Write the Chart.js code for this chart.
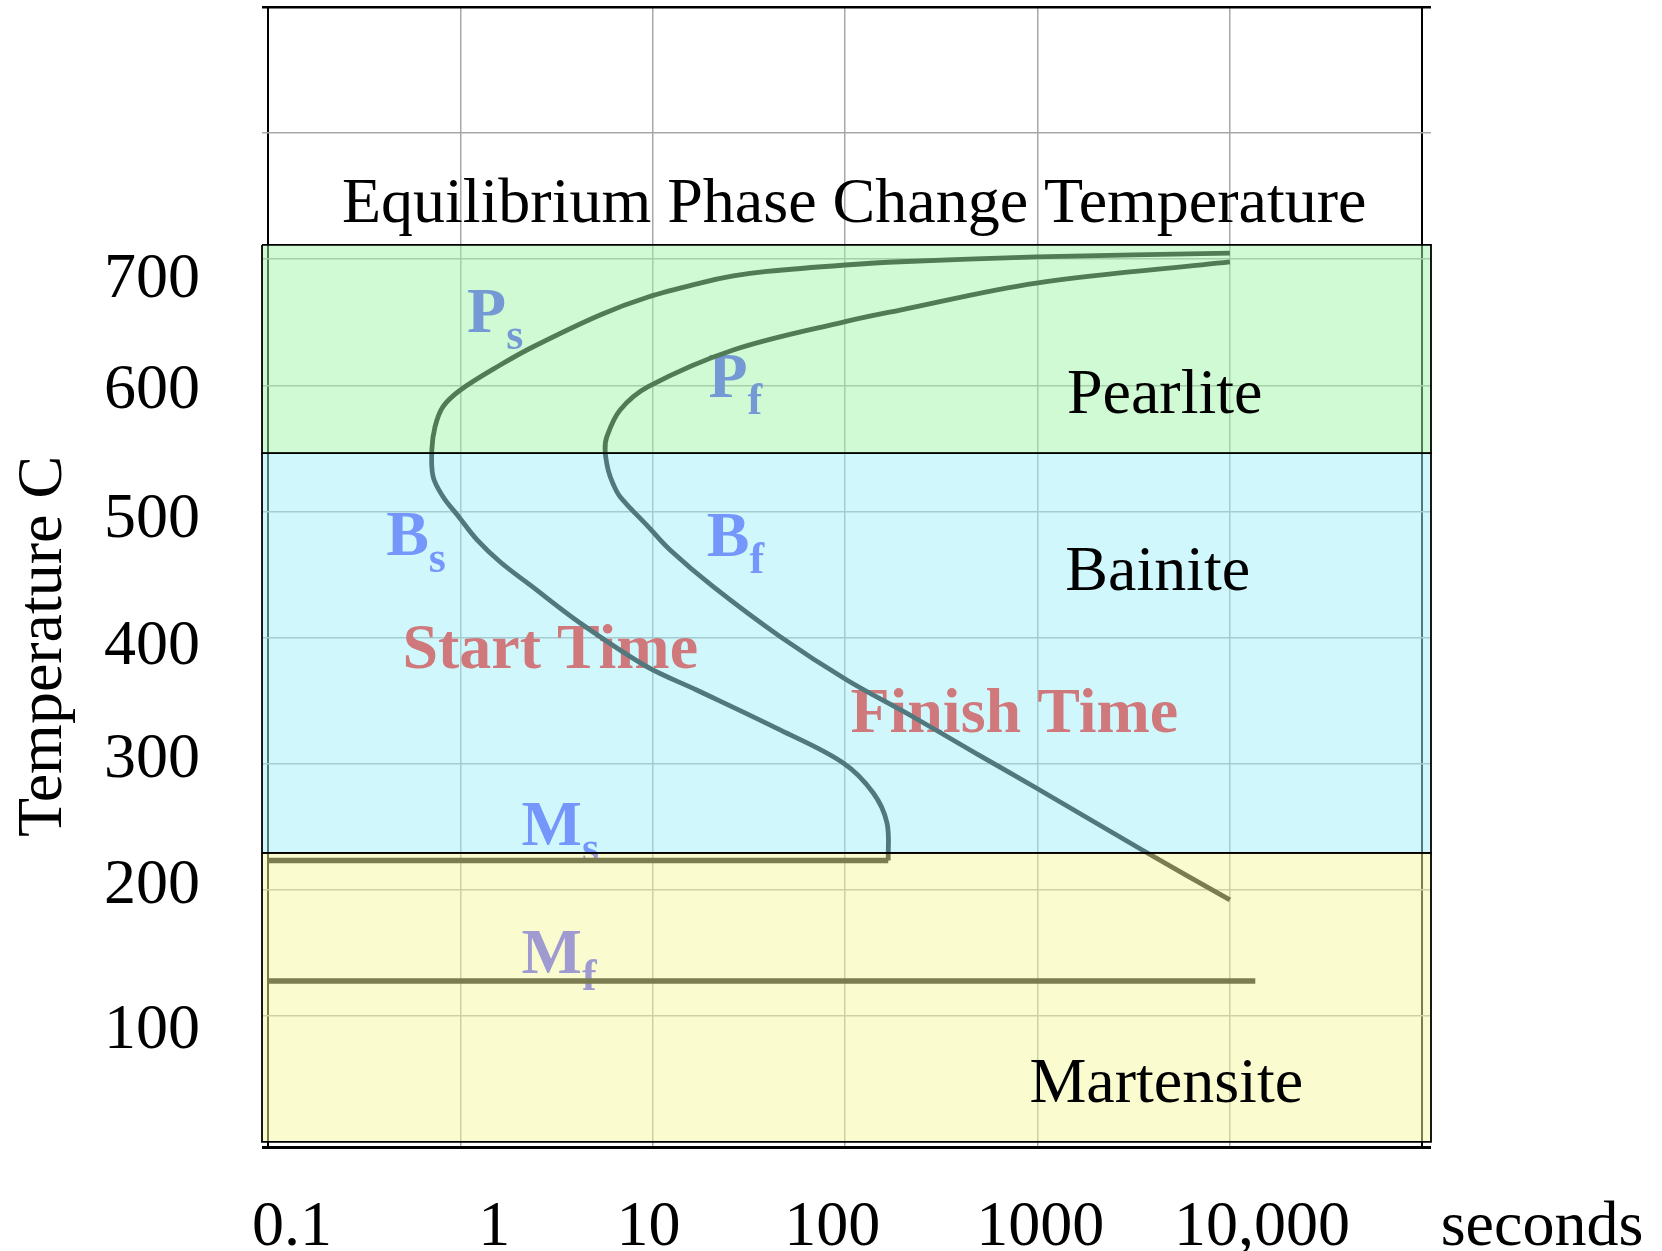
<!DOCTYPE html>
<html>
<head>
<meta charset="utf-8">
<script src="https://cdn.jsdelivr.net/npm/chart.js@4.4.1/dist/chart.umd.min.js"></script>
<style>
  html, body { margin: 0; padding: 0; background: #ffffff; }
  #wrap { width: 1662px; height: 1251px; position: relative; }
</style>
</head>
<body>
<div id="wrap"><canvas id="c"></canvas></div>
<script>
// ---------- axes ----------
const xGridValues = [0.1, 1, 10, 100, 1000, 10000, 100000];
const xTickLabels = ['0.1', '1', '10', '100', '1000', '10,000'];
const xTickLabelAt = [0.133, 1.5, 9.5, 85.6, 1033, 14700];      // where each label sits in the picture
const yGridValues = [100, 200, 300, 400, 500, 600, 700, 800, 900];
const yTickLabels = ['700', '600', '500', '400', '300', '200', '100'];
const yTickLabelAt = [683.5, 595.1, 493.2, 392.1, 302.9, 202.6, 87.6];

// ---------- start time curve (Ps -> nose -> Bs) ----------
const startTime = [10000, 985, 193, 100, 39.2, 26.2, 17.6, 9.46, 5.32, 2.39, 1.61, 1.0, 0.812, 0.738, 0.710, 0.721, 0.812, 0.973, 1.221, 1.61, 2.30, 4.19, 9.31, 16.9, 45.9, 97.7, 140, 165, 167.5];
const startTemp = [704.9, 701.8, 698.0, 695.4, 690.3, 686.7, 681.1, 670.0, 655.8, 630.6, 616.1, 596.3, 583.1, 567.2, 548.7, 527.5, 511.7, 496.4, 477.4, 459.9, 441.7, 411.5, 376.9, 358.4, 326.7, 300.5, 276.7, 252.9, 223.2];

// ---------- finish time curve (Pf -> nose -> Bf) ----------
const finishTime = [10000, 985, 193, 100, 26.2, 9.46, 6.76, 5.77, 5.65, 5.86, 6.22, 6.76, 9.46, 12.3, 20.6, 45.9, 102, 226, 504, 985, 3500, 10000];
const finishTemp = [697.8, 681.1, 659.7, 650.5, 628.0, 598.9, 580.4, 559.3, 548.7, 532.9, 521.8, 511.7, 487.9, 469.4, 440.3, 400.7, 366.3, 337.0, 306.1, 280.7, 231.5, 191.9];

// ---------- martensite start / finish lines ----------
const msTime = [0.1, 167.5];
const msTemp = [223.2, 223.2];
const mfTime = [0.1, 13550];
const mfTemp = [127.7, 127.7];

// ---------- phase bands ----------
const bandNames = ['Pearlite', 'Bainite', 'Martensite'];
const bandTop = [711.3, 546.3, 229.2];
const bandBottom = [546.3, 229.2, 0];
const bandTimeRange = [0.093, 111000];
const bandColors = ['rgba(161,245,169,0.5)', 'rgba(161,241,249,0.5)', 'rgba(245,249,161,0.5)'];

// ---------- text labels ----------
const phaseMain = ['P', 'P', 'B', 'B', 'M', 'M'];
const phaseSub = ['s', 'f', 's', 'f', 's', 'f'];
const phaseTime = [1.083, 19.45, 0.411, 19.1, 2.08, 2.08];
const phaseTemp = [642.5, 591.0, 465.5, 464.7, 235.5, 133.8];

const curveNames = ['Start Time', 'Finish Time'];
const curveNameTime = [2.93, 757];
const curveNameTemp = [375.9, 325.1];

const regionNameTime = [4581, 4217, 4666];
const regionNameTemp = [578.1, 437.7, 31.7];

const titleText = 'Equilibrium Phase Change Temperature';
const titleTime = 111.4;
const titleTemp = 729.5;

const yAxisTitle = 'Temperature C';
const yAxisTitleTemp = 393;
const xAxisUnit = 'seconds';

// ---------- build datasets ----------
const FONT = '"Liberation Serif", "Times New Roman", serif';
const pts = (xs, ys) => xs.map((x, i) => ({ x: x, y: ys[i] }));
const curveStyle = { showLine: true, borderColor: '#000000', pointRadius: 0, fill: false, order: 1, clip: false, xAxisID: 'x', yAxisID: 'y' };

const datasets = [];
bandNames.forEach((name, i) => {
  const [t0, t1] = bandTimeRange;
  datasets.push({
    label: name,
    data: [
      { x: t0, y: bandTop[i] }, { x: t1, y: bandTop[i] },
      { x: t1, y: bandBottom[i] }, { x: t0, y: bandBottom[i] },
      { x: t0, y: bandTop[i] }
    ],
    showLine: true, fill: 'shape', tension: 0,
    backgroundColor: bandColors[i], borderColor: '#000000', borderWidth: 1.8,
    pointRadius: 0, order: 0, clip: false, xAxisID: 'x', yAxisID: 'y'
  });
});
datasets.push(Object.assign({ label: 'Start', data: pts(startTime, startTemp), tension: 0.35, borderWidth: 4.8 }, curveStyle));
datasets.push(Object.assign({ label: 'Finish', data: pts(finishTime, finishTemp), tension: 0.35, borderWidth: 4.8 }, curveStyle));
datasets.push(Object.assign({ label: 'Ms', data: pts(msTime, msTemp), tension: 0, borderWidth: 5.5 }, curveStyle));
datasets.push(Object.assign({ label: 'Mf', data: pts(mfTime, mfTemp), tension: 0, borderWidth: 5.5 }, curveStyle));

// ---------- text plugin ----------
const textPlugin = {
  id: 'tttText',
  beforeDatasetsDraw(chart) {
    // labels that sit under the translucent bands
    const { ctx, scales: { x, y } } = chart;
    ctx.save();
    ctx.textBaseline = 'alphabetic';
    ctx.fillStyle = 'rgb(72,60,255)';
    phaseMain.forEach((m, i) => {
      const px = x.getPixelForValue(phaseTime[i]);
      const py = y.getPixelForValue(phaseTemp[i]);
      ctx.textAlign = 'left';
      ctx.font = 'bold 64px ' + FONT;
      ctx.fillText(m, px, py);
      const w = ctx.measureText(m).width;
      ctx.font = 'bold 44px ' + FONT;
      ctx.fillText(phaseSub[i], px + w, py + 17);
    });
    ctx.fillStyle = 'rgb(255,0,0)';
    ctx.font = 'bold 64px ' + FONT;
    ctx.textAlign = 'center';
    curveNames.forEach((n, i) => {
      ctx.fillText(n, x.getPixelForValue(curveNameTime[i]), y.getPixelForValue(curveNameTemp[i]));
    });
    ctx.restore();
  },
  afterDatasetsDraw(chart) {
    const { ctx, chartArea, scales: { x, y } } = chart;
    ctx.save();
    ctx.fillStyle = '#000000';
    ctx.font = '64px ' + FONT;
    ctx.textAlign = 'center';
    ctx.textBaseline = 'alphabetic';
    ctx.fillText(titleText, x.getPixelForValue(titleTime), y.getPixelForValue(titleTemp));
    bandNames.forEach((n, i) => {
      ctx.fillText(n, x.getPixelForValue(regionNameTime[i]), y.getPixelForValue(regionNameTemp[i]));
    });
    // unit label to the right of the time axis
    ctx.fillText(xAxisUnit, chartArea.right + 111, chartArea.bottom + 98);
    // rotated temperature axis title
    ctx.translate(chartArea.left - 201, y.getPixelForValue(yAxisTitleTemp));
    ctx.rotate(-Math.PI / 2);
    ctx.fillText(yAxisTitle, 0, 0);
    ctx.restore();
  }
};

const GRID_GRAY = 'rgb(168,168,168)';
const noPad = s => { s.paddingTop = 0; s.paddingBottom = 0; s.paddingLeft = 0; s.paddingRight = 0; };
const isXEdge = c => c.tick && (c.tick.value === xGridValues[0] || c.tick.value === xGridValues[xGridValues.length - 1]);
const tickFont = { family: FONT, size: 64 };

new Chart(document.getElementById('c'), {
  type: 'scatter',
  data: { datasets: datasets },
  options: {
    responsive: true,
    maintainAspectRatio: false,
    animation: false,
    events: [],
    layout: { padding: { left: 0, right: 231, top: 7, bottom: 0 } },
    plugins: {
      legend: { display: false },
      tooltip: { enabled: false },
      title: { display: false }
    },
    scales: {
      x: {
        type: 'logarithmic', position: 'bottom',
        min: bandTimeRange[0], max: bandTimeRange[1],
        afterBuildTicks: s => { s.ticks = xGridValues.map(v => ({ value: v })); },
        afterFit: s => { s.height = 0; noPad(s); },
        ticks: { display: false },
        grid: {
          drawTicks: false,
          color: c => isXEdge(c) ? '#000000' : GRID_GRAY,
          lineWidth: c => isXEdge(c) ? 2 : 1.5
        },
        border: { display: false }
      },
      xl: {
        type: 'logarithmic', position: 'bottom',
        min: bandTimeRange[0], max: bandTimeRange[1],
        afterBuildTicks: s => { s.ticks = xTickLabelAt.map(v => ({ value: v })); },
        afterFit: s => { s.height = 104; noPad(s); },
        ticks: {
          autoSkip: false, maxRotation: 0, minRotation: 0, padding: 43,
          color: '#000000', font: tickFont,
          callback: (v, i) => xTickLabels[i]
        },
        grid: { display: false, drawTicks: false },
        border: { display: false }
      },
      y: {
        type: 'linear', position: 'left',
        min: -4, max: 900,
        afterBuildTicks: s => { s.ticks = [s.min].concat(yGridValues).map(v => ({ value: v })); },
        afterFit: s => { s.width = 0; noPad(s); },
        ticks: { display: false },
        grid: {
          drawTicks: false,
          color: c => (c.tick && (c.tick.value === 900 || c.tick.value < 0)) ? '#000000' : GRID_GRAY,
          lineWidth: c => (c.tick && c.tick.value < 0) ? 3 : (c.tick && c.tick.value === 900 ? 2.5 : 1.5)
        },
        border: { display: false }
      },
      yl: {
        type: 'linear', position: 'left',
        min: -4, max: 900,
        afterBuildTicks: s => { s.ticks = yTickLabelAt.map(v => ({ value: v })); },
        afterFit: s => { s.width = 262; noPad(s); },
        ticks: {
          autoSkip: false, padding: 62, color: '#000000', font: tickFont,
          callback: (v, i) => yTickLabels[i]
        },
        grid: { display: false, drawTicks: false },
        border: { display: false }
      }
    }
  },
  plugins: [textPlugin]
});
</script>
</body>
</html>
